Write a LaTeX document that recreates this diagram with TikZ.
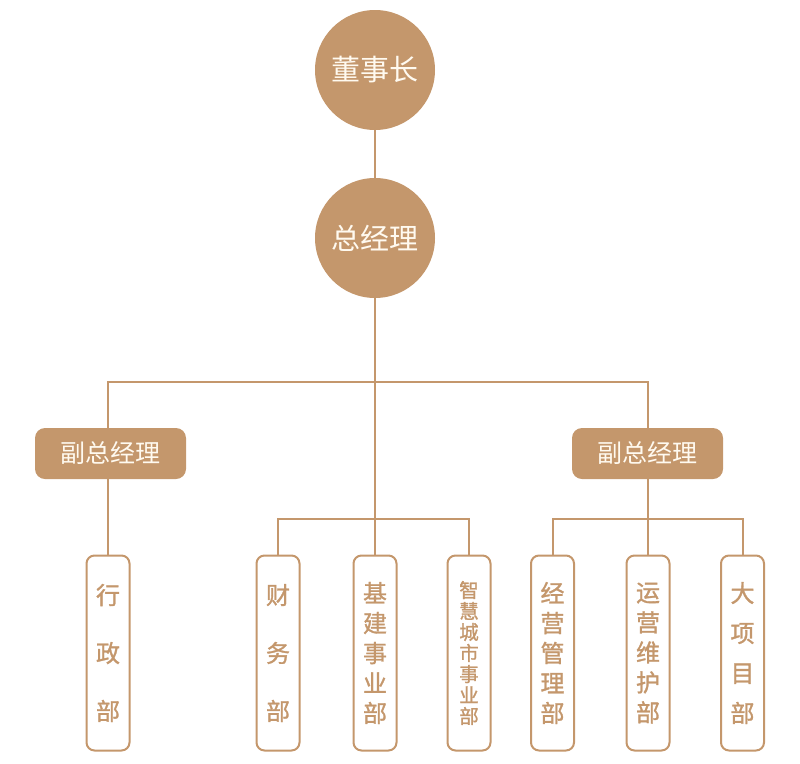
\documentclass[tikz,border=0pt]{standalone}
\usepackage{fontspec}
\newfontfamily\cjk{Noto Sans CJK SC}
\newfontfamily\cjkb[FakeBold=1.2]{Noto Sans CJK SC}
\usetikzlibrary{backgrounds}
\definecolor{brown}{RGB}{196,151,108}
\definecolor{cream}{RGB}{255,250,240}
\begin{document}
\begin{tikzpicture}[x=1pt,y=-1pt,
  conn/.style={draw=brown,line width=2pt},
  circ/.style={circle,fill=brown,minimum size=120pt,inner sep=0pt,text=cream,font=\cjk\fontsize{29}{32}\selectfont},
  vp/.style={rounded corners=10pt,fill=brown,minimum width=151pt,minimum height=51pt,inner sep=0pt,text=cream,font=\cjk\fontsize{25}{28}\selectfont},
  dept/.style={rounded corners=8pt,draw=brown,line width=2pt,fill=white,minimum width=43pt,minimum height=195pt,inner sep=0pt,text=brown,align=center},
  wide/.style={font=\cjkb\fontsize{24}{58}\selectfont},
  five/.style={font=\cjkb\fontsize{24}{30}\selectfont},
  four/.style={font=\cjkb\fontsize{24}{40}\selectfont},
  seven/.style={font=\cjkb\fontsize{19.5}{21}\selectfont}]
\useasboundingbox (0,0) rectangle (800,763);
\node[circ] (dsz) at (375,70) {董事长};
\node[circ] (zjl) at (375,238) {总经理};
\node[vp] (fzL) at (110.5,453.5) {副总经理};
\node[vp] (fzR) at (647.5,453.5) {副总经理};
\node[dept,wide] (xz) at (108,653) {行\\政\\部};
\node[dept,wide] (cw) at (278,653) {财\\务\\部};
\node[dept,five] (jj) at (375,653) {基\\建\\事\\业\\部};
\node[dept,seven] (zh) at (469,653) {智\\慧\\城\\市\\事\\业\\部};
\node[dept,five] (jy) at (552.5,653) {经\\营\\管\\理\\部};
\node[dept,five] (yy) at (648,653) {运\\营\\维\\护\\部};
\node[dept,four] (dx) at (742.5,653) {大\\项\\目\\部};
\coordinate (busA) at (375,382);
\coordinate (busB) at (375,519);
\coordinate (busC) at (648,519);
\begin{pgfonlayer}{background}
\draw[conn] (dsz) -- (zjl);
\draw[conn] (zjl) -- (jj.north);
\draw[conn] (xz.north) -- (xz.north |- busA) -- (busA) -- (busA -| yy.north) -- (yy.north);
\draw[conn] (cw.north) |- (busB) -| (zh.north);
\draw[conn] (jy.north) |- (busC) -| (dx.north);
\end{pgfonlayer}
\end{tikzpicture}
\end{document}
